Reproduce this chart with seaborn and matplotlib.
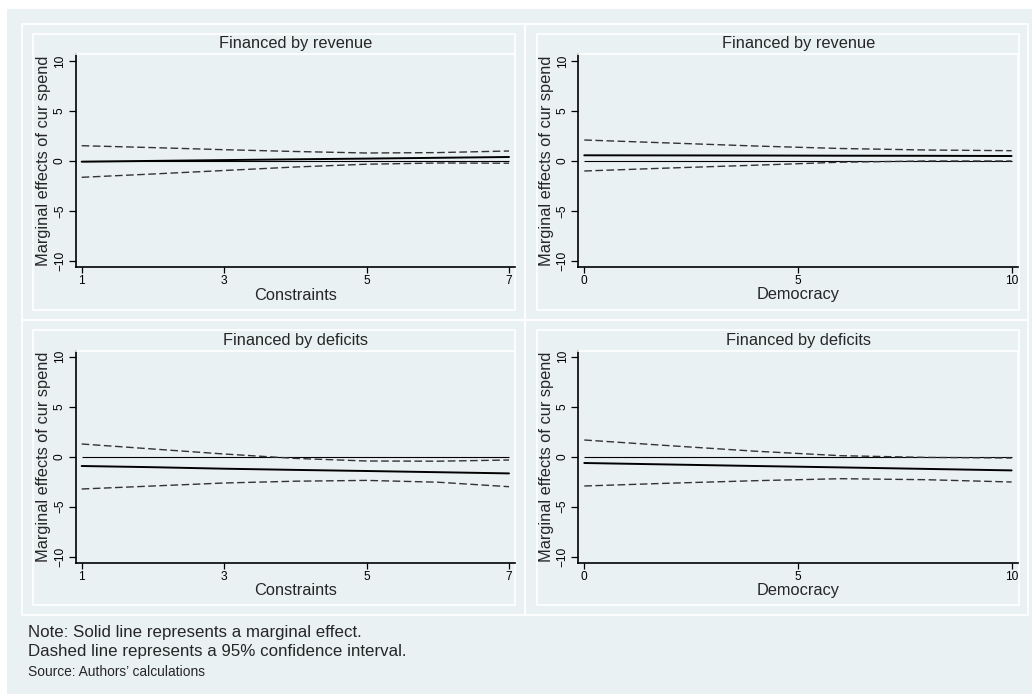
import numpy as np
import pandas as pd
import matplotlib.pyplot as plt
import seaborn as sns
from matplotlib.patches import Rectangle

# values
con_x = [1, 2, 3, 4, 5, 6, 7]
dem_x = [0, 2, 4, 6, 8, 10]

rev_con_me = [-0.07, 0.01, 0.09, 0.17, 0.24, 0.32, 0.40]
rev_con_hi = [1.53, 1.34, 1.13, 0.95, 0.80, 0.84, 1.00]
rev_con_lo = [-1.63, -1.30, -0.95, -0.60, -0.32, -0.20, -0.22]

rev_dem_me = [0.57, 0.56, 0.55, 0.53, 0.52, 0.50]
rev_dem_hi = [2.10, 1.80, 1.50, 1.25, 1.10, 1.03]
rev_dem_lo = [-1.00, -0.70, -0.42, -0.12, 0.00, 0.00]

def_con_me = [-0.93, -1.05, -1.20, -1.32, -1.43, -1.55, -1.67]
def_con_hi = [1.27, 0.77, 0.27, -0.17, -0.43, -0.45, -0.33]
def_con_lo = [-3.23, -2.93, -2.63, -2.45, -2.37, -2.55, -3.00]

def_dem_me = [-0.63, -0.78, -0.93, -1.07, -1.22, -1.37]
def_dem_hi = [1.67, 1.10, 0.55, 0.10, -0.07, -0.13]
def_dem_lo = [-2.93, -2.65, -2.40, -2.20, -2.30, -2.53]

titles = ["Financed by revenue", "Financed by revenue", "Financed by deficits", "Financed by deficits"]
xlabels = ["Constraints", "Democracy", "Constraints", "Democracy"]
ylabel = "Marginal effects of cur spend"
con_ticks = [1, 3, 5, 7]
dem_ticks = [0, 5, 10]
y_ticks = [-10, -5, 0, 5, 10]
note_lines = ["Note: Solid line represents a marginal effect.",
              "Dashed line represents a 95% confidence interval."]
source = "Source: Authors\u2019 calculations"

W, H = 1032, 694
BG = "#eaf1f3"

sns.set_style("ticks")
plt.rcParams["font.family"] = ["Liberation Sans", "DejaVu Sans"]

fig = plt.figure(figsize=(W / 100, H / 100), dpi=100)
fig.patch.set_facecolor("white")


def frac(l, t, r, b):
    return [l / W, 1 - b / H, (r - l) / W, (b - t) / H]


def box(l, t, r, b, **kw):
    x, y, w, h = frac(l, t, r, b)
    fig.patches.append(Rectangle((x, y), w, h, transform=fig.transFigure, **kw))


# graph region + subgraph boxes
box(7, 9, W, H, facecolor=BG, edgecolor="none", zorder=-10)
for (l, r) in [(22, 525), (525, 1028)]:
    for (t, b) in [(24, 320), (320, 615)]:
        box(l, t, r, b, fill=False, edgecolor="white", lw=1.2, zorder=-5)
for (l, r) in [(33, 515), (536.7, 1018.7)]:
    for (t, b) in [(34, 310), (330, 605)]:
        box(l, t, r, b, fill=False, edgecolor="white", lw=1.2, zorder=-5)

panels = [
    (frac(75.7, 54, 515, 267), con_x, rev_con_me, rev_con_hi, rev_con_lo, con_ticks, (0.916, 7.084), (-10.6, 10.7)),
    (frac(578.3, 54, 1018, 267), dem_x, rev_dem_me, rev_dem_hi, rev_dem_lo, dem_ticks, (-0.14, 10.15), (-10.6, 10.7)),
    (frac(75.7, 350.7, 515, 562.7), con_x, def_con_me, def_con_hi, def_con_lo, con_ticks, (0.916, 7.084), (-10.6, 10.6)),
    (frac(578.3, 350.7, 1018, 562.7), dem_x, def_dem_me, def_dem_hi, def_dem_lo, dem_ticks, (-0.14, 10.15), (-10.6, 10.6)),
]

for i, (pos, xs, me, hi, lo, xt, xl, yl) in enumerate(panels):
    ax = fig.add_axes(pos)
    ax.set_facecolor(BG)
    df = pd.DataFrame({
        "x": list(xs) * 3,
        "value": list(me) + list(hi) + list(lo),
        "series": ["me"] * len(xs) + ["hi"] * len(xs) + ["lo"] * len(xs),
    })
    ax.hlines(0, min(xs), max(xs), color="black", lw=0.8, zorder=2)
    sns.lineplot(data=df, x="x", y="value", hue="series", style="series",
                 palette={"me": "black", "hi": "#333333", "lo": "#333333"},
                 dashes={"me": "", "hi": (5.5, 2.5), "lo": (5.5, 2.5)},
                 size="series", sizes={"me": 1.4, "hi": 1.0, "lo": 1.0},
                 legend=False, ax=ax, zorder=3)
    ax.set_xlim(*xl)
    ax.set_ylim(*yl)
    ax.set_xticks(xt)
    ax.set_yticks(y_ticks)
    ax.tick_params(axis="x", length=4, width=0.9, labelsize=8.6, pad=2, colors="black")
    ax.tick_params(axis="y", length=5, width=0.9, labelsize=8.6, pad=2, colors="black")
    for lab in ax.get_yticklabels():
        lab.set_rotation(90)
        lab.set_va("center")
    for s in ["left", "bottom"]:
        ax.spines[s].set_color("black")
        ax.spines[s].set_linewidth(1.2)
    for s in ["top", "right"]:
        ax.spines[s].set_color("white")
        ax.spines[s].set_linewidth(1.2)
    ax.set_title(titles[i], fontsize=11.8, pad=4)
    ax.set_xlabel(xlabels[i], fontsize=11.8)
    ax.set_ylabel(ylabel, fontsize=11.8)
    ax.xaxis.set_label_coords(0.5, -28 / 213)
    ax.xaxis.label.set_va("center")
    ax.yaxis.set_label_coords(-31.7 / 439.3, 0.5)
    ax.yaxis.label.set_va("center")

# note lines sit tight in the reference; keep them just clear of each other
for y_px, line in zip([632.0, 651.5], note_lines):
    fig.text(28 / W, 1 - y_px / H, line, fontsize=12.2, va="center", ha="left")
fig.text(28 / W, 1 - 672.5 / H, source, fontsize=9.9, va="center", ha="left")

fig.savefig("out.png", dpi=100, facecolor=fig.get_facecolor())
